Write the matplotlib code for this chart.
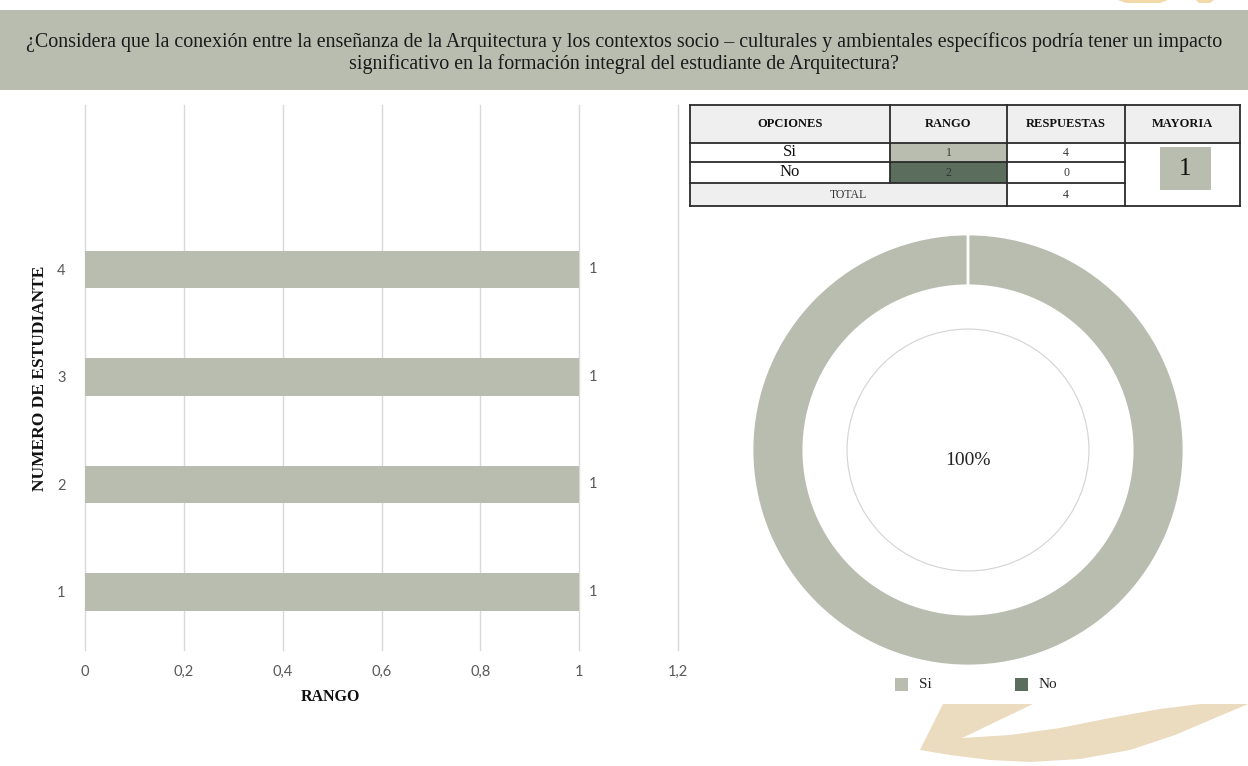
import numpy as np
import matplotlib
matplotlib.use("Agg")
import matplotlib.pyplot as plt
from matplotlib.patches import Rectangle, Polygon, Circle

# ---- data ----
title = ("¿Considera que la conexión entre la enseñanza de la Arquitectura y los contextos socio – culturales y ambientales específicos podría tener un impacto\n"
         "significativo en la formación integral del estudiante de Arquitectura?")
estudiantes = [1, 2, 3, 4]
rango_estudiante = [1, 1, 1, 1]
x_ticks = [0, 0.2, 0.4, 0.6, 0.8, 1.0, 1.2]

opciones = ["Si", "No"]
rango_opciones = [1, 2]
respuestas = [4, 0]
total = sum(respuestas)
mayoria = 1

GREY = "#B8BDB0"
DARK = "#5B6E5D"
TICK = "#595959"
SERIF = "Liberation Serif"
SANS = "Lato"

W, H = 1248, 766


def px_rect(x0, y0, x1, y1):
    # pixel box (top-left origin) -> figure fraction
    return [x0 / W, 1 - y1 / H, (x1 - x0) / W, (y1 - y0) / H]


fig = plt.figure(figsize=(W / 100, H / 100), dpi=100)
fig.patch.set_facecolor("white")

# background layer in pixel coordinates
bg = fig.add_axes([0, 0, 1, 1], zorder=0)
bg.set_xlim(0, W)
bg.set_ylim(H, 0)
bg.axis("off")

bg.add_patch(Rectangle((0, 10), W, 80, color=GREY, lw=0))
bg.text(W / 2, 53, title, ha="center", va="center", fontsize=14.4,
        family=SERIF, color="#1a1a1a", linespacing=1.1)

# orange decoration
ORANGE = "#EBDBBF"
bg.add_patch(Polygon([(943, 704), (1033, 704), (962, 738), (1010, 735), (1060, 728),
                      (1110, 718), (1160, 709), (1200, 704), (1248, 704), (1215, 718),
                      (1175, 735), (1130, 750), (1080, 759), (1030, 762), (990, 760),
                      (950, 755), (920, 750)], closed=True, color=ORANGE, lw=0))
bg.add_patch(Polygon([(1118, 0), (1168, 0), (1160, 3), (1126, 3)], color="#F1D9A8", lw=0))
bg.add_patch(Polygon([(1196, 0), (1214, 0), (1210, 3), (1199, 3)], color="#F1D9A8", lw=0))

# ---- table ----
cols = [690, 890, 1007, 1125, 1240]
rows = [105, 143, 162, 183, 206]
LIGHT = "#EFEFEF"
line_kw = dict(color="#2b2b2b", lw=1.3, zorder=3)

bg.add_patch(Rectangle((cols[0], rows[0]), cols[4] - cols[0], rows[1] - rows[0], color=LIGHT, lw=0))
bg.add_patch(Rectangle((cols[0], rows[3]), cols[2] - cols[0], rows[4] - rows[3], color=LIGHT, lw=0))
rango_colors = [GREY, DARK]
for i in range(len(opciones)):
    bg.add_patch(Rectangle((cols[1], rows[1 + i]), cols[2] - cols[1], rows[2 + i] - rows[1 + i],
                           color=rango_colors[i], lw=0))

headers = ["OPCIONES", "RANGO", "RESPUESTAS", "MAYORIA"]
for j, h in enumerate(headers):
    bg.text((cols[j] + cols[j + 1]) / 2, (rows[0] + rows[1]) / 2, h, ha="center", va="center",
            fontsize=9, fontweight="bold", family=SERIF, color="#111")
for i, (op, rg, rs) in enumerate(zip(opciones, rango_opciones, respuestas)):
    yc = (rows[1 + i] + rows[2 + i]) / 2
    bg.text((cols[0] + cols[1]) / 2, yc, op, ha="center", va="center", fontsize=12,
            family=SERIF, color="#111")
    bg.text((cols[1] + cols[2]) / 2, yc, str(rg), ha="center", va="center", fontsize=8.5,
            family=SERIF, color="#333")
    bg.text((cols[2] + cols[3]) / 2, yc, str(rs), ha="center", va="center", fontsize=8.5,
            family=SERIF, color="#333")
yc = (rows[3] + rows[4]) / 2
bg.text((cols[0] + cols[2]) / 2, yc, "TOTAL", ha="center", va="center", fontsize=8.5,
        family=SERIF, color="#333")
bg.text((cols[2] + cols[3]) / 2, yc, str(total), ha="center", va="center", fontsize=8.5,
        family=SERIF, color="#333")
bg.add_patch(Rectangle((1160, 147), 51, 43, color=GREY, lw=0))
bg.text(1185.5, 169, str(mayoria), ha="center", va="center", fontsize=18, family=SERIF, color="#111")

# grid lines of the table
for y in rows:
    x_end = cols[3] if y in (rows[2], rows[3]) else cols[4]
    bg.plot([cols[0], x_end], [y, y], **line_kw)
for x in cols:
    if x == cols[1]:
        bg.plot([x, x], [rows[0], rows[3]], **line_kw)
    else:
        bg.plot([x, x], [rows[0], rows[4]], **line_kw)

# ---- horizontal bar chart ----
ax = fig.add_axes(px_rect(85, 105, 678, 650), zorder=1)
ax.barh(estudiantes, rango_estudiante, height=0.35, color=GREY, zorder=2)
ax.set_xlim(0, 1.2)
ax.set_ylim(0.46, 5.53)
ax.set_xticks(x_ticks)
ax.set_xticklabels([f"{t:g}".replace(".", ",") for t in x_ticks])
ax.set_yticks(estudiantes)
ax.grid(axis="x", color="#D9D9D9", lw=1, zorder=0)
for gl in ax.get_xgridlines():
    gl.set_clip_on(False)
for s in ax.spines.values():
    s.set_visible(False)
ax.tick_params(length=0, labelsize=10.5, colors=TICK, pad=11)
ax.tick_params(axis="y", pad=14)
for lbl in ax.get_xticklabels() + ax.get_yticklabels():
    lbl.set_family(SANS)
for y, v in zip(estudiantes, rango_estudiante):
    ax.text(v + 0.02, y, f"{v:g}", va="center", ha="left", fontsize=10.5, color=TICK, family=SANS)
ax.set_facecolor("none")

bg.text(40, 378, "NUMERO DE ESTUDIANTE", rotation=90, ha="center", va="center",
        fontsize=12.5, fontweight="bold", family=SERIF, color="#111")
bg.text(330, 697, "RANGO", ha="center", va="center", fontsize=11.5, fontweight="bold",
        family=SERIF, color="#111")

# ---- donut ----
cx, cy, r = 968, 450, 216
axp = fig.add_axes(px_rect(cx - r, cy - r, cx + r, cy + r), zorder=1)
axp.pie(respuestas, colors=[GREY, DARK], startangle=90, counterclock=False,
        radius=1, wedgeprops=dict(width=0.24, edgecolor="white", linewidth=2))
axp.add_patch(Circle((0, 0), 0.56, fill=False, ec="#D3D3D3", lw=0.8))
axp.set_xlim(-1, 1)
axp.set_ylim(-1, 1)
pct = 100 * respuestas[0] / total
axp.text(0, -0.05, f"{pct:.0f}%", ha="center", va="center", fontsize=14, family=SERIF, color="#222")

# legend
for (lx, name, col) in [(895, opciones[0], GREY), (1015, opciones[1], DARK)]:
    bg.add_patch(Rectangle((lx, 678), 13, 13, color=col, lw=0))
    bg.text(lx + 24, 685, name, ha="left", va="center", fontsize=11, family=SERIF, color="#222")

fig.savefig("out.png", dpi=100)
